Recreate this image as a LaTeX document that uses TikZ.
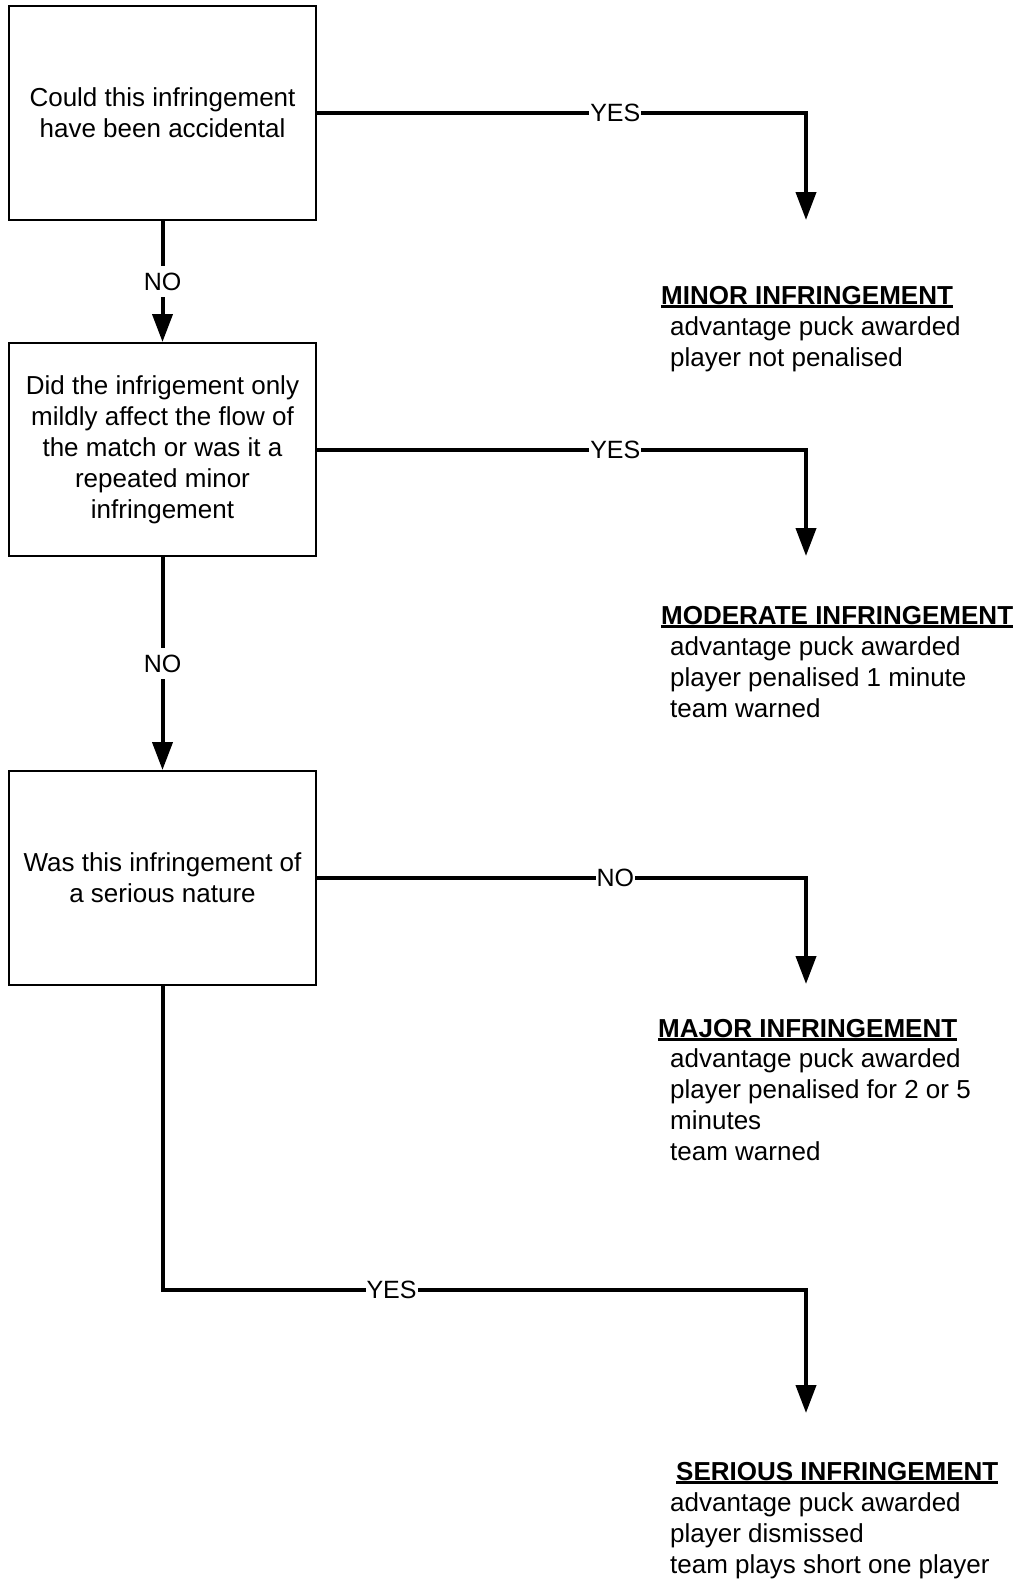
\documentclass[tikz,border=0pt]{standalone}
\usepackage{fontspec}
\setmainfont{Liberation Sans}
\usetikzlibrary{arrows.meta}
\newcommand\ulhead[1]{\setbox0\hbox{\bfseries #1}\rlap{\rule[-3.5pt]{\wd0}{2.4pt}}\box0}
\begin{document}
\begin{tikzpicture}[x=1pt,y=-1pt,
  qbox/.style={draw, line width=2pt, minimum width=307pt, minimum height=214pt, align=center, inner sep=0pt, font=\fontsize{26}{31}\selectfont},
  flow/.style={line width=4pt, -{Triangle[length=28pt,width=20pt]}},
  lbl/.style={fill=white, inner xsep=1pt, inner ysep=7pt, font=\fontsize{25}{30}\selectfont},
  head/.style={anchor=base west, inner sep=0pt, font=\fontsize{26}{31}\selectfont},
  body/.style={anchor=north west, inner sep=0pt, align=left, font=\fontsize{26}{31}\selectfont}]
\fill[white] (0,0) rectangle (1018,1580);
\useasboundingbox (0,0) rectangle (1018,1580);

\node[qbox] (q1) at (162.5,113) {Could this infringement\\have been accidental};
\node[qbox, minimum height=213pt] (q2) at (162.5,449.5) {Did the infrigement only\\mildly affect the flow of\\the match or was it a\\repeated minor\\infringement};
\node[qbox] (q3) at (162.5,878) {Was this infringement of\\a serious nature};

\coordinate (t1) at (806,220);
\coordinate (t2) at (806,556);
\coordinate (t3) at (806,984);
\coordinate (k4) at (806,1290);
\coordinate (t4) at (806,1413);

\draw[flow] (q1) -| node[lbl,pos=0.305]{YES} (t1);
\draw[flow] (q2) -| node[lbl,pos=0.305]{YES} (t2);
\draw[flow] (q3) -| node[lbl,pos=0.305]{NO} (t3);
\draw[flow] (q1) -- node[lbl]{NO} (q2);
\draw[flow] (q2) -- node[lbl]{NO} (q3);
\draw[flow] (q3) |- node[lbl,pos=0.678]{YES} (k4) -- (t4);

\node[head] (h1) at (661,304) {\ulhead{MINOR INFRINGEMENT}};
\node[body] (b1) at (670,316.8) {advantage puck awarded\\player not penalised};
\node[head] (h2) at (661,624) {\ulhead{MODERATE INFRINGEMENT}};
\node[body] (b2) at (670,636.8) {advantage puck awarded\\player penalised 1 minute\\team warned};
\node[head] (h3) at (658,1037) {\ulhead{MAJOR INFRINGEMENT}};
\node[body] (b3) at (670,1048.8) {advantage puck awarded\\player penalised for 2 or 5\\minutes\\team warned};
\node[head] (h4) at (676,1480) {\ulhead{SERIOUS INFRINGEMENT}};
\node[body] (b4) at (670,1492.8) {advantage puck awarded\\player dismissed\\team plays short one player};
\end{tikzpicture}
\end{document}
